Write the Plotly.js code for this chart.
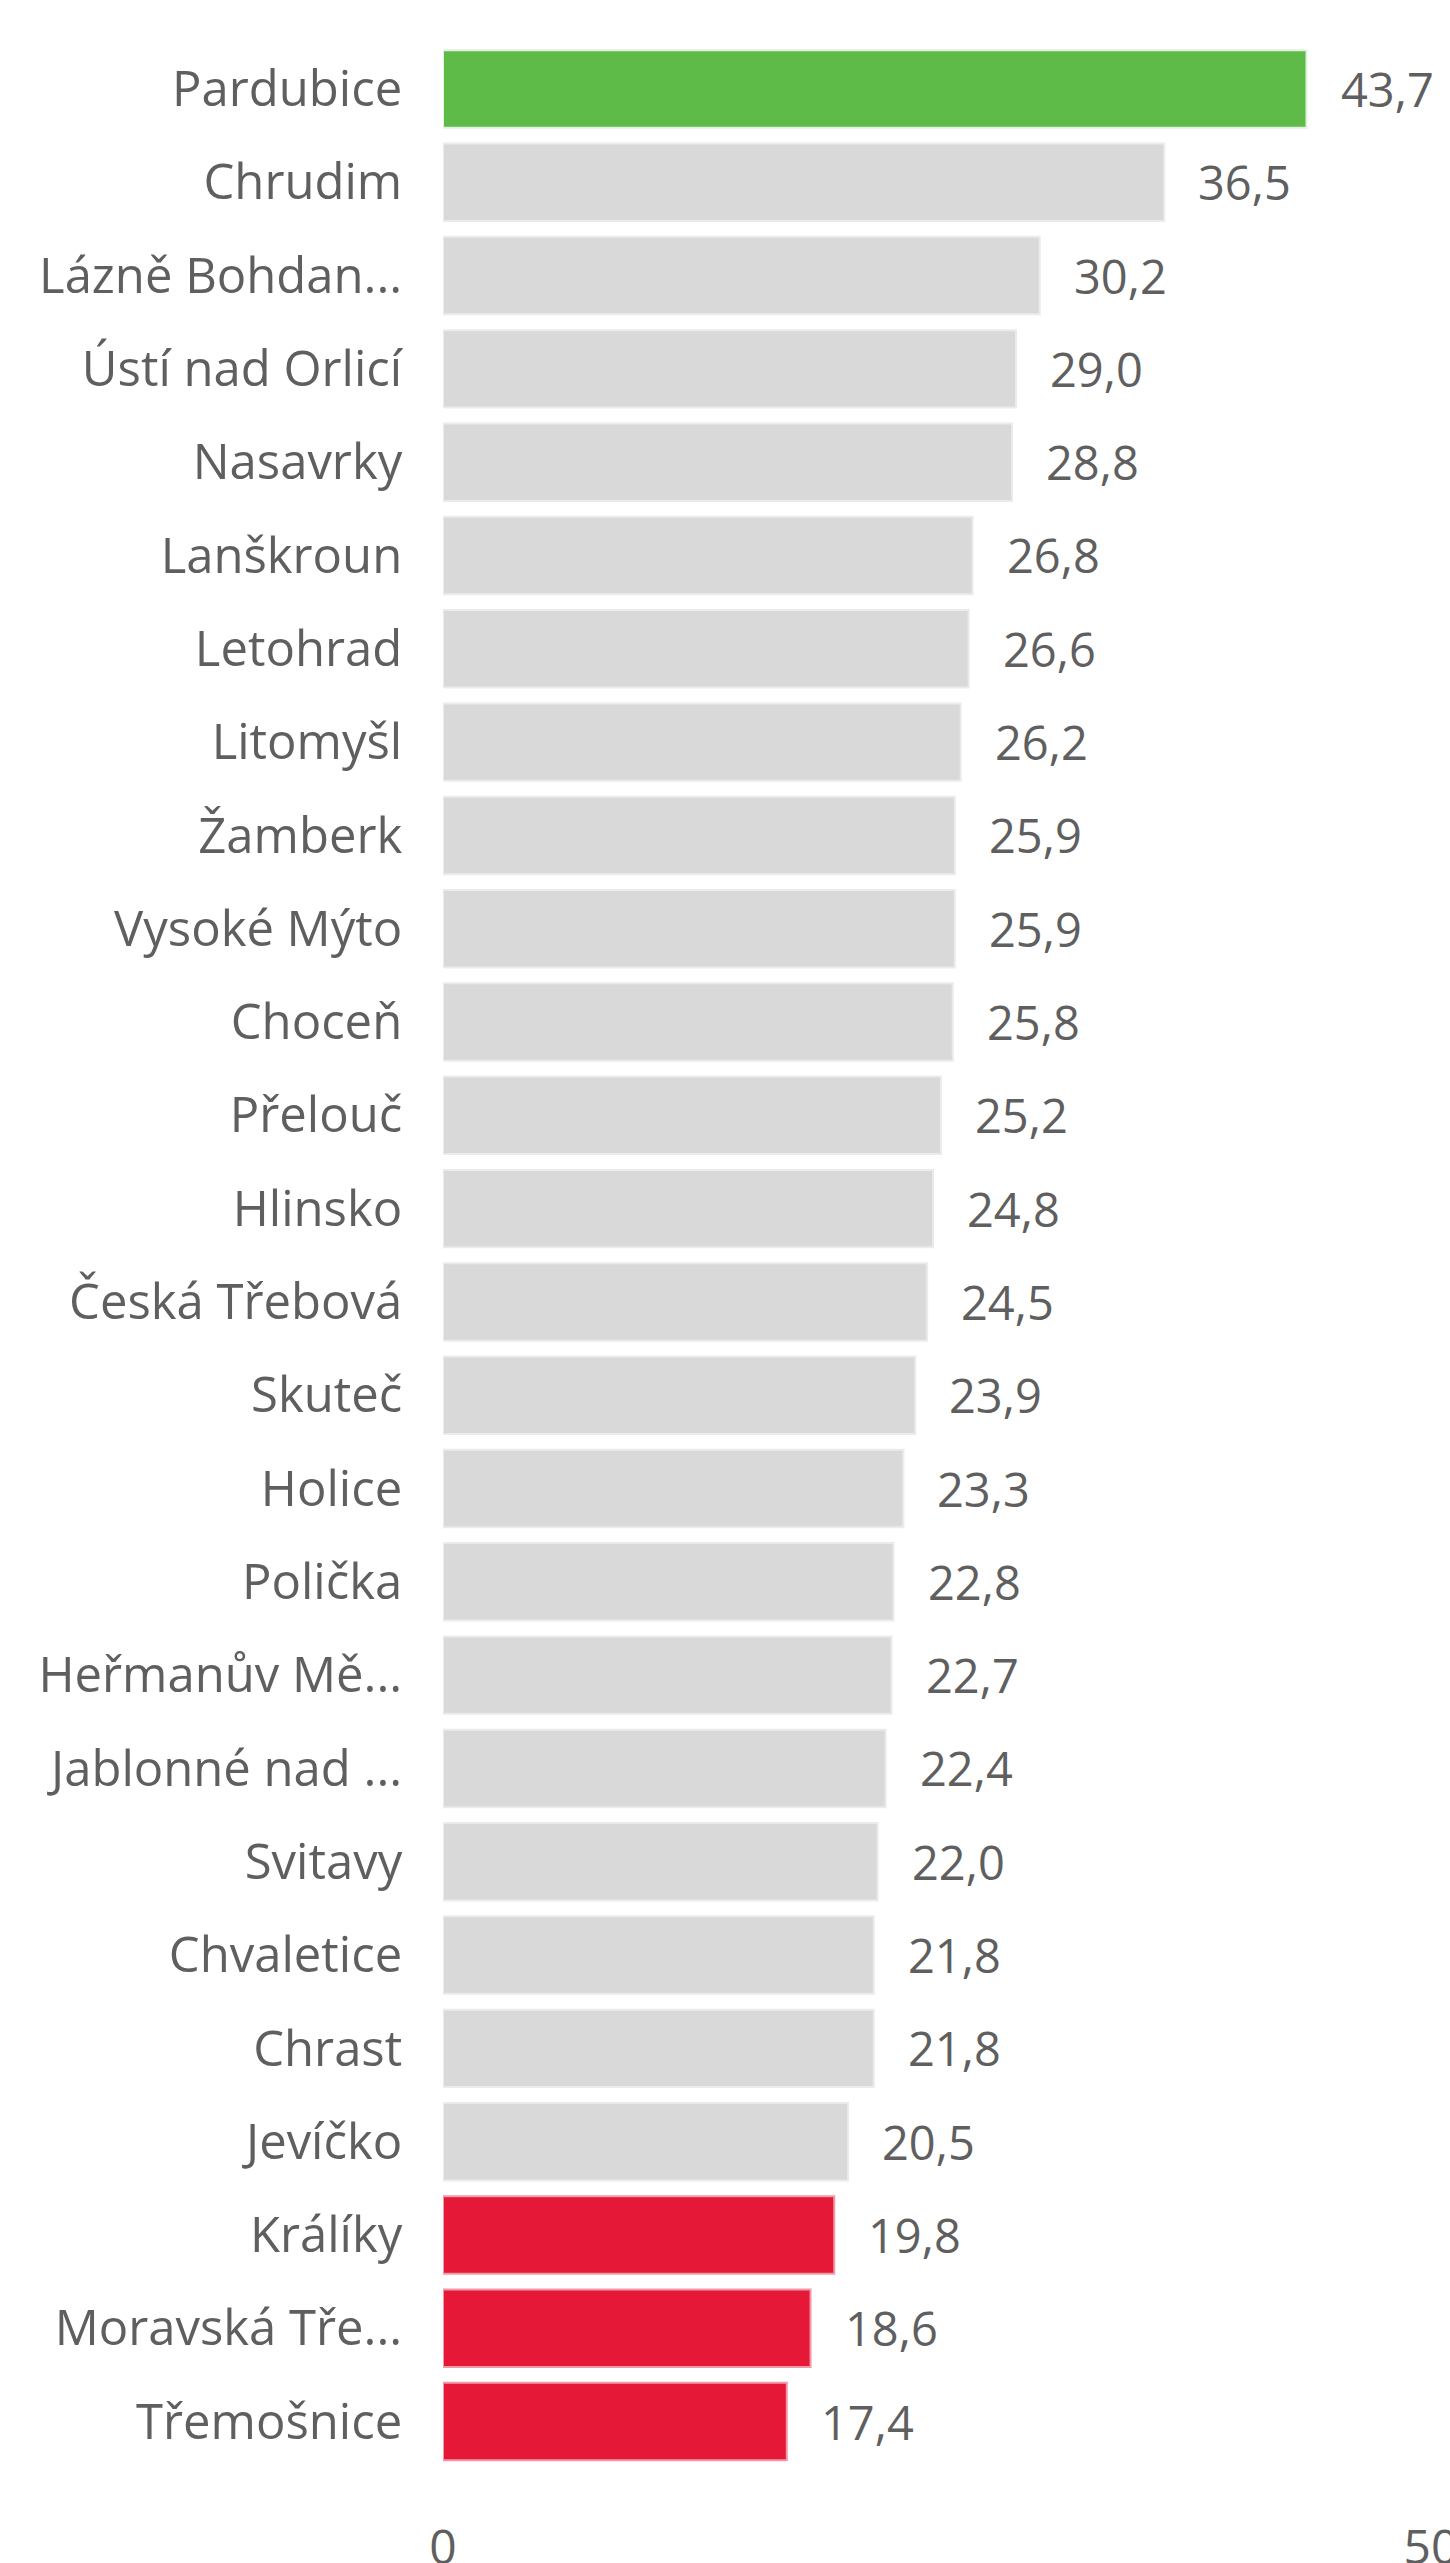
<!DOCTYPE html>
<html>
<head>
<meta charset="utf-8">
<script src="https://cdn.plot.ly/plotly-3.0.1.min.js"></script>
<style>
  html, body { margin: 0; padding: 0; background: #ffffff; }
  #chart { width: 1450px; height: 2563px; }
</style>
</head>
<body>
<div id="chart"></div>
<script>
// ---- data ----
const towns = [
  "Pardubice", "Chrudim", "Lázně Bohdan...", "Ústí nad Orlicí", "Nasavrky",
  "Lanškroun", "Letohrad", "Litomyšl", "Žamberk", "Vysoké Mýto",
  "Choceň", "Přelouč", "Hlinsko", "Česká Třebová", "Skuteč",
  "Holice", "Polička", "Heřmanův Mě...", "Jablonné nad ...", "Svitavy",
  "Chvaletice", "Chrast", "Jevíčko", "Králíky", "Moravská Tře...", "Třemošnice"
];
const values = [
  43.7, 36.5, 30.2, 29.0, 28.8,
  26.8, 26.6, 26.2, 25.9, 25.9,
  25.8, 25.2, 24.8, 24.5, 23.9,
  23.3, 22.8, 22.7, 22.4, 22.0,
  21.8, 21.8, 20.5, 19.8, 18.6, 17.4
];
const xTicks = [0, 50];

// ---- styling rules ----
const maxVal = Math.max(...values);
const threshold = 20;
function fillFor(v) { return v === maxVal ? "#5EBB47" : (v < threshold ? "#E51937" : "#D9D9D9"); }
function edgeFor(v) { return v === maxVal ? "#E3F1DE" : (v < threshold ? "#F09AA8" : "#EBEBEB"); }
const fmt = v => v.toFixed(1).replace(".", ",");

const textColor = "#5F5F5F";
const fontFamily = "'Segoe UI', 'Open Sans', 'Noto Sans', sans-serif";

const trace = {
  type: "bar",
  orientation: "h",
  x: values,
  y: towns,
  marker: {
    color: values.map(fillFor),
    line: { color: values.map(edgeFor), width: 2 }
  },
  hoverinfo: "none",
  cliponaxis: false
};

const annotations = values.map((v, i) => ({
  x: v,
  y: towns[i],
  xref: "x",
  yref: "y",
  text: fmt(v),
  showarrow: false,
  xanchor: "left",
  yanchor: "middle",
  xshift: 32,
  font: { family: fontFamily, size: 47, color: textColor }
}));

const layout = {
  width: 1450,
  height: 2563,
  margin: { l: 443, r: 19, t: 12, b: 68 },
  paper_bgcolor: "#ffffff",
  plot_bgcolor: "#ffffff",
  showlegend: false,
  bargap: 0.17,
  font: { family: fontFamily, color: textColor },
  xaxis: {
    range: [0, 50],
    tickvals: xTicks,
    ticktext: xTicks.map(String),
    showgrid: true,
    gridcolor: "#E3E3E3",
    gridwidth: 3,
    griddash: "7px,19px",
    zeroline: false,
    showline: false,
    ticks: "outside",
    ticklen: 10,
    tickcolor: "rgba(0,0,0,0)",
    ticklabeloverflow: "allow",
    tickfont: { family: fontFamily, size: 48, color: textColor },
    fixedrange: true
  },
  yaxis: {
    type: "category",
    categoryorder: "array",
    categoryarray: towns,
    range: [25.787, -0.825],
    showgrid: false,
    zeroline: false,
    showline: false,
    ticks: "outside",
    ticklen: 30,
    tickcolor: "rgba(0,0,0,0)",
    tickfont: { family: fontFamily, size: 49, color: textColor },
    fixedrange: true
  },
  annotations: annotations
};

Plotly.newPlot("chart", [trace], layout, { displayModeBar: false, staticPlot: true });
</script>
</body>
</html>
